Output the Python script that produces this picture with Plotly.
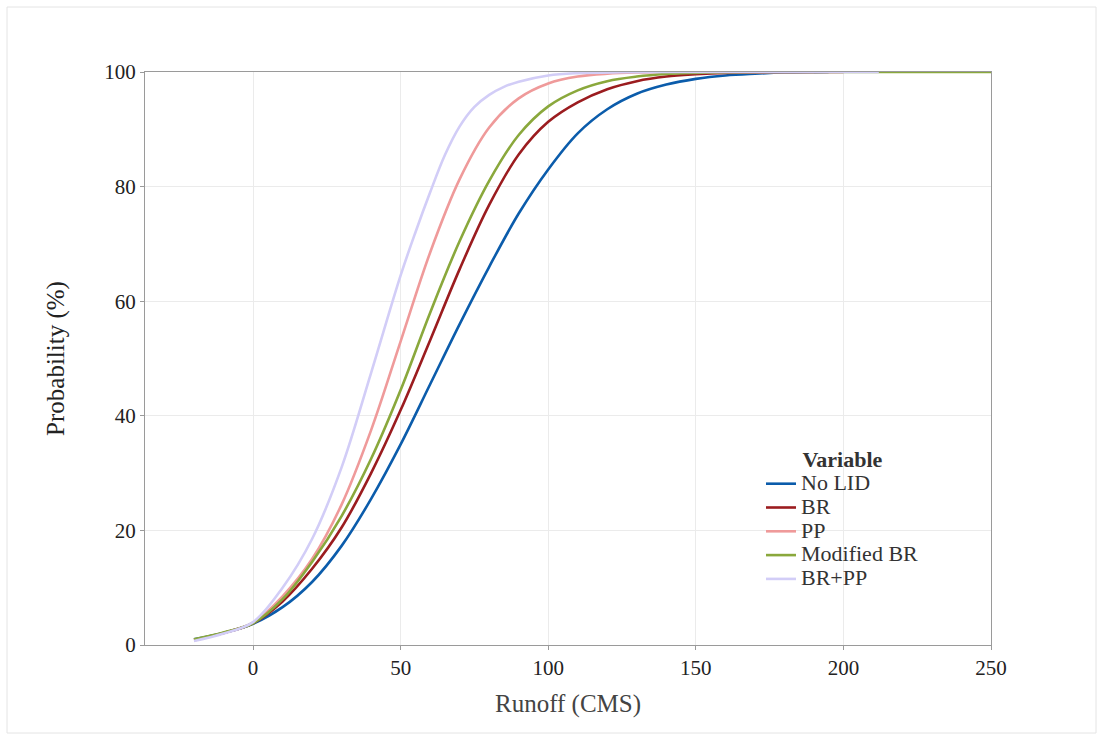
import plotly.graph_objects as go

# Cumulative probability (%) of runoff (CMS) for each LID scenario
series_names = ["No LID", "BR", "PP", "Modified BR", "BR+PP"]
series_colors = ["#0b5cab", "#9b1c1f", "#ef9a9a", "#8aa83c", "#d2cdf7"]

no_lid_x = [-20, -10, 0, 10, 20, 30, 40, 50, 60, 70, 80, 90, 100, 110, 120,
            130, 140, 150, 160, 170, 180, 195]
no_lid_p = [1.0, 2.1, 3.7, 6.6, 11.0, 17.3, 25.5, 35.0, 45.5, 56.0, 66.0, 75.3,
            83.0, 89.3, 93.5, 96.2, 97.8, 98.8, 99.4, 99.7, 99.9, 100]

br_x = [-20, -10, 0, 10, 20, 30, 40, 50, 60, 70, 80, 90, 100, 110, 120, 130,
        140, 150, 160, 175, 200]
br_p = [0.9, 2.1, 3.8, 7.6, 13.3, 20.5, 30.0, 41.0, 53.2, 65.6, 76.8, 85.6,
        91.3, 94.7, 97.0, 98.4, 99.2, 99.6, 99.85, 99.95, 100]

pp_x = [-20, -10, 0, 10, 20, 30, 40, 50, 60, 70, 80, 90, 100, 110, 120, 130,
        150, 190]
pp_p = [0.8, 2.1, 3.9, 8.5, 15.0, 24.5, 37.5, 53.0, 68.5, 81.3, 90.3, 95.4,
        98.0, 99.2, 99.7, 99.9, 100, 100]

mod_br_x = [-20, -10, 0, 10, 20, 30, 40, 50, 60, 70, 80, 90, 100, 110, 120,
            130, 140, 150, 160, 175, 250]
mod_br_p = [1.0, 2.2, 3.8, 8.0, 14.5, 22.5, 32.5, 44.5, 58.0, 70.5, 81.0, 89.0,
            94.0, 96.8, 98.4, 99.2, 99.65, 99.85, 99.95, 100, 100]

br_pp_x = [-20, -10, 0, 10, 20, 30, 40, 50, 55, 60, 65, 70, 75, 80, 85, 90,
           100, 110, 125, 145, 212]
br_pp_p = [0.7, 2.0, 4.0, 10.0, 18.5, 31.0, 47.5, 64.5, 72.0, 79.0, 85.5, 90.5,
           93.9, 96.0, 97.4, 98.3, 99.4, 99.8, 99.95, 100, 100]

x_ticks = [0, 50, 100, 150, 200, 250]
y_ticks = [0, 20, 40, 60, 80, 100]

series_x = [no_lid_x, br_x, pp_x, mod_br_x, br_pp_x]
series_p = [no_lid_p, br_p, pp_p, mod_br_p, br_pp_p]

FONT = "Liberation Serif, Times New Roman, serif"
LEGEND_TEXT = 22   # drawn size of the legend labels
LEGEND_ROW = 16    # nominal size that sets the row pitch


def big(text, bold=False):
    inner = f"<b>{text}</b>" if bold else text
    return f'<span style="font-size:{LEGEND_TEXT}px">{inner}</span>'


fig = go.Figure()
for name, color, xs, ps in zip(series_names, series_colors, series_x, series_p):
    fig.add_trace(go.Scatter(
        x=xs, y=ps, name=big(name), mode="lines",
        line=dict(color=color, width=2.6, shape="spline", smoothing=1.0),
    ))

# light frame around the whole figure
L, R, T, B = 145, 109, 72, 91
W, H = 1100, 736
pw, ph = W - L - R, H - T - B
fig.add_shape(type="rect", xref="paper", yref="paper",
              x0=(7 - L) / pw, x1=(1096 - L) / pw,
              y0=(H - B - 733) / ph, y1=(H - B - 7) / ph,
              line=dict(color="#e4e4e4", width=1), layer="below")

axis_common = dict(
    showline=True, linecolor="#9a9a9a", linewidth=1, mirror=True,
    showgrid=True, gridcolor="#ebebeb", gridwidth=1,
    ticks="outside", ticklen=4, tickcolor="#9a9a9a",
    tickfont=dict(family=FONT, size=21, color="#222"),
    zeroline=False,
)

fig.update_layout(
    width=W, height=H, autosize=False,
    margin=dict(l=L, r=R, t=T, b=B),
    paper_bgcolor="white", plot_bgcolor="white",
    font=dict(family=FONT, color="#333"),
    xaxis=dict(range=[-36.6, 250], tickvals=x_ticks,
               title=dict(text="Runoff (CMS)", font=dict(family=FONT, size=25, color="#444"),
                          standoff=15),
               **axis_common),
    yaxis=dict(range=[0, 100], tickvals=y_ticks,
               title=dict(text="Probability (%)", font=dict(family=FONT, size=25, color="#222"),
                          standoff=32),
               **axis_common),
    legend=dict(
        x=(761 - L) / pw, y=(H - B - 446) / ph, xanchor="left", yanchor="top",
        bgcolor="rgba(0,0,0,0)",
        font=dict(family=FONT, size=LEGEND_ROW, color="#333"),
        title=dict(text=big("Variable", bold=True), side="top center",
                   font=dict(family=FONT, size=LEGEND_ROW, color="#333")),
    ),
    showlegend=True,
)

fig.write_html("out.html")
